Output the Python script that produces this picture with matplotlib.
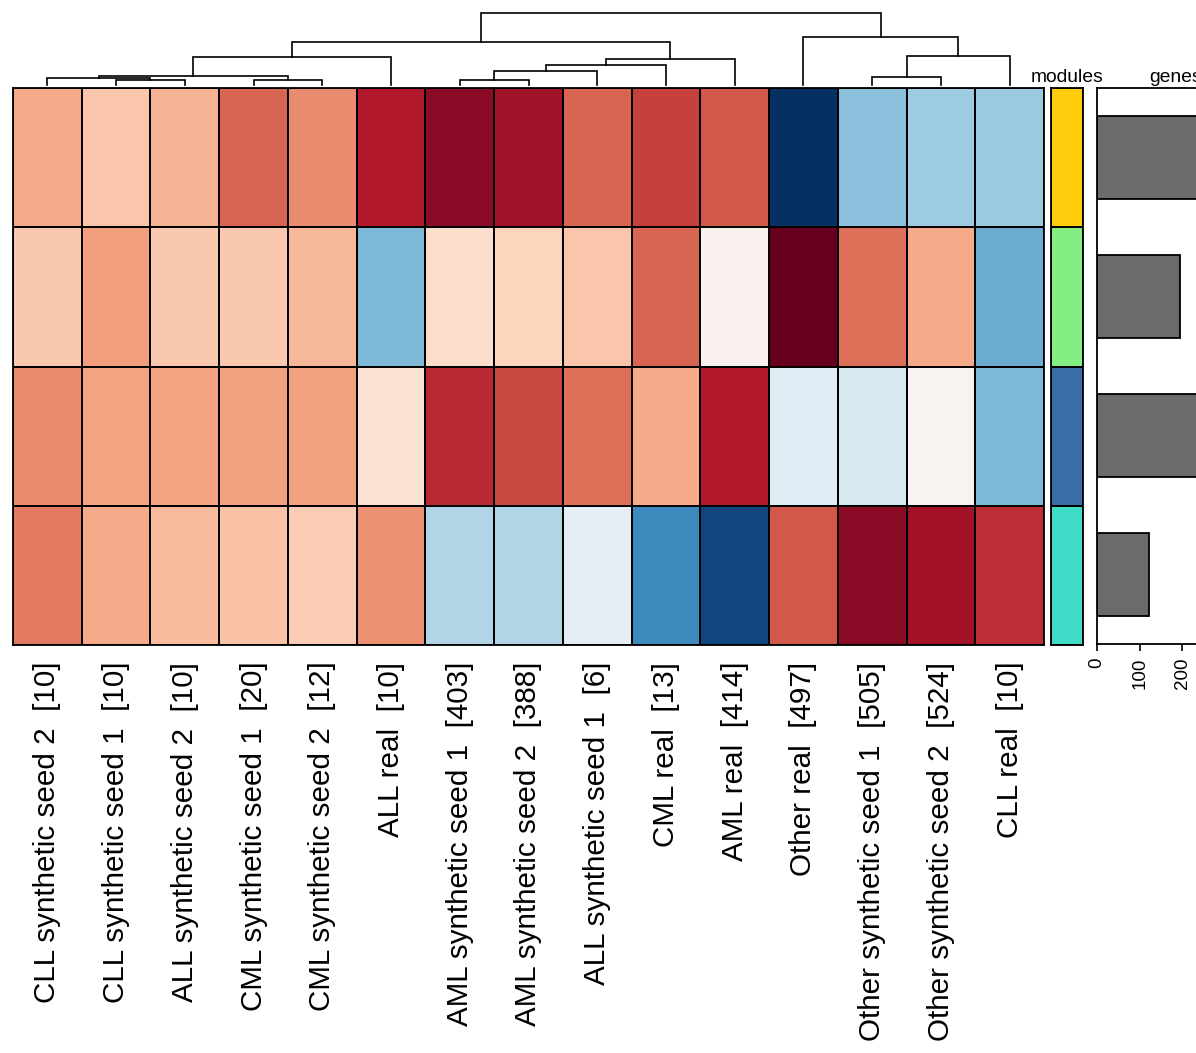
import numpy as np
import matplotlib
matplotlib.use("Agg")
import matplotlib.pyplot as plt
from matplotlib.colors import ListedColormap

plt.rcParams['font.family'] = ['Liberation Sans', 'DejaVu Sans']

# ---------------- data ----------------
samples = [
    "CLL synthetic seed 2  [10]", "CLL synthetic seed 1  [10]", "ALL synthetic seed 2  [10]",
    "CML synthetic seed 1  [20]", "CML synthetic seed 2  [12]", "ALL real  [10]",
    "AML synthetic seed 1  [403]", "AML synthetic seed 2  [388]", "ALL synthetic seed 1  [6]",
    "CML real  [13]", "AML real  [414]", "Other real  [497]",
    "Other synthetic seed 1  [505]", "Other synthetic seed 2  [524]", "CLL real  [10]",
]
modules = ["yellow", "green", "blue", "turquoise"]
module_colors = ["#FDCC0A", "#84EE82", "#3A6DA6", "#3EDCC6"]
genes = [360, 194, 370, 122]

row_yellow    = [0.38, 0.28, 0.35, 0.58, 0.47, 0.80, 0.90, 0.85, 0.58, 0.68, 0.62, -1.00, -0.42, -0.36, -0.37]
row_green     = [0.27, 0.42, 0.27, 0.27, 0.33, -0.45, 0.18, 0.22, 0.28, 0.58, 0.04, 1.00, 0.55, 0.38, -0.50]
row_blue      = [0.47, 0.40, 0.40, 0.41, 0.41, 0.15, 0.75, 0.67, 0.55, 0.38, 0.80, -0.12, -0.17, 0.03, -0.45]
row_turquoise = [0.52, 0.38, 0.32, 0.29, 0.25, 0.46, -0.30, -0.30, -0.10, -0.64, -0.92, 0.62, 0.90, 0.84, 0.74]

# dendrogram merges: (left, right, height); ids >= 15 refer to earlier merges
merges = [
    (1, 2, 5.0), (0, 15, 7.3), (3, 4, 5.0), (16, 17, 9.3), (18, 5, 27.7),
    (6, 7, 4.7), (20, 8, 14.0), (21, 9, 20.3), (22, 10, 25.7), (19, 23, 43.3),
    (12, 13, 8.3), (25, 14, 29.0), (11, 26, 47.7), (24, 27, 71.7),
]
gene_ticks = [0, 100, 200]

# ---------------- layout ----------------
W, H = 1196, 1053
fig = plt.figure(figsize=(W / 100, H / 100), dpi=100)

def px_axes(x0, y0, x1, y1):
    return fig.add_axes([x0 / W, 1 - y1 / H, (x1 - x0) / W, (y1 - y0) / H])

mat = np.array([row_yellow, row_green, row_blue, row_turquoise])
n_rows, n_cols = mat.shape

# heatmap
ax = px_axes(13, 88, 1044, 645)
ax.pcolormesh(np.arange(n_cols + 1), np.arange(n_rows + 1), mat, cmap="RdBu_r",
              vmin=-1, vmax=1, edgecolors="black", linewidth=1.1)
ax.set_xlim(0, n_cols)
ax.set_ylim(n_rows, 0)
ax.set_yticks([])
ax.set_xticks(np.arange(n_cols) + 0.5)
ax.set_xticklabels(samples, rotation=90, fontsize=21.3, va="top", ha="center")
ax.tick_params(axis="x", length=0, pad=12)
for s in ax.spines.values():
    s.set_linewidth(1.3)

# dendrogram
dax = px_axes(13, 10, 1044, 85)
dax.set_xlim(0, n_cols)
dax.set_ylim(0, 75)
dax.axis("off")
pos = {i: (i + 0.5, 0.0) for i in range(n_cols)}
for k, (a, b, h) in enumerate(merges):
    xa, ha = pos[a]
    xb, hb = pos[b]
    dax.plot([xa, xa, xb, xb], [ha, h, h, hb], color="black", lw=1.2,
             solid_joinstyle="miter", clip_on=False)
    pos[n_cols + k] = ((xa + xb) / 2, h)

# modules annotation
max_ = px_axes(1051, 88, 1083, 645)
max_.pcolormesh([0, 1], np.arange(n_rows + 1), np.arange(n_rows).reshape(-1, 1),
                cmap=ListedColormap(module_colors), vmin=-0.5, vmax=n_rows - 0.5,
                edgecolors="black", linewidth=1.1)
max_.set_xlim(0, 1)
max_.set_ylim(n_rows, 0)
max_.set_xticks([])
max_.set_yticks([])
for s in max_.spines.values():
    s.set_linewidth(1.3)
fig.text(1067 / W, 1 - 82 / H, "modules", ha="center", va="baseline", fontsize=13.9)

# genes barplot
gax = px_axes(1097, 88, 1255, 644)
gax.barh(np.arange(n_rows) + 0.5, genes, height=0.6, color="#6B6B6B",
         edgecolor="black", linewidth=1.3)
gax.set_ylim(n_rows, 0)
gax.set_xlim(0, 370)
gax.set_yticks([])
gax.set_xticks(gene_ticks)
gax.set_xticklabels([str(t) for t in gene_ticks], rotation=90, fontsize=13.5)
gax.tick_params(axis="x", length=5, width=1.2, pad=5)
for s in gax.spines.values():
    s.set_linewidth(1.3)
fig.text(1176 / W, 1 - 82 / H, "genes", ha="center", va="baseline", fontsize=13.9)

fig.savefig("out.png", dpi=100)
